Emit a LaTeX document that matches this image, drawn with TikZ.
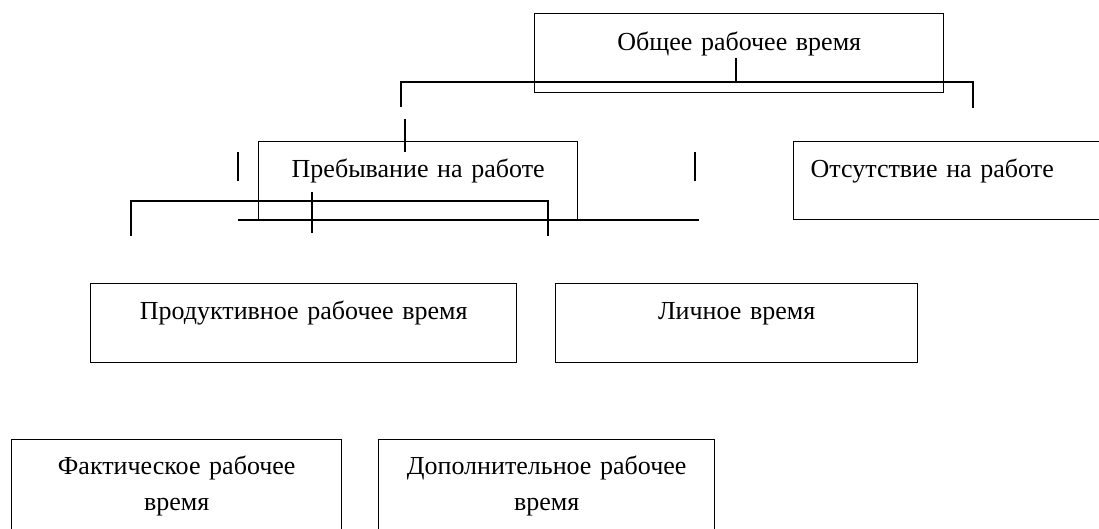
\documentclass[tikz,border=0pt]{standalone}
\usepackage{fontspec}
\setmainfont{Liberation Serif}
\usetikzlibrary{positioning}
\tikzset{box/.style={rectangle,draw,line width=1.4pt,inner sep=0pt,align=center,anchor=north west,font=\fontsize{26}{36}\selectfont},line/.style={line width=1.4pt}}

\begin{document}
\begin{tikzpicture}[x=1pt,y=-1pt]
\useasboundingbox (0,0) rectangle (1099,529);
\clip (0,0) rectangle (1099,529);
% boxes
\node[box,text width=409pt,text height=37pt,text depth=42pt] (total) at (534,13) {Общее рабочее время};
\node[box,text width=319pt,text height=36pt,text depth=43pt] (present) at (258,141) {Пребывание на работе};
\node[box,text width=305pt,text height=36pt,text depth=42pt,align=left,inner xsep=17pt] (absent) at (793,141) {Отсутствие на работе};
\node[box,text width=426pt,text height=36pt,text depth=43pt] (prod) at (90,283) {Продуктивное рабочее время};
\node[box,text width=362pt,text height=36pt,text depth=43pt] (personal) at (555,283) {Личное время};
\node[box,text width=330pt,text height=35pt,text depth=80pt] (actual) at (11,439) {Фактическое рабочее\\время};
\node[box,text width=336pt,text height=35pt,text depth=80pt] (extra) at (378,439) {Дополнительное рабочее\\время};
% loose line ends
\coordinate (t1) at (736,58);  \coordinate (t2) at (736,82);
\coordinate (a1) at (401,107); \coordinate (a2) at (401,82);
\coordinate (a3) at (973,82);  \coordinate (a4) at (973,108);
\coordinate (p1) at (405,119); \coordinate (p2) at (405,152);
\coordinate (s1) at (238,152); \coordinate (s2) at (238,181);
\coordinate (s3) at (695,152); \coordinate (s4) at (695,181);
\coordinate (b1) at (131,236); \coordinate (b2) at (131,201);
\coordinate (b3) at (548,201); \coordinate (b4) at (548,236);
\coordinate (m1) at (312,192); \coordinate (m2) at (312,233);
\coordinate (u1) at (238,220); \coordinate (u2) at (699,220);
% lines
\draw[line] (t1) -- (t2);
\draw[line] (a1) -- (a2) -- (a3) -- (a4);
\draw[line] (p1) -- (p2);
\draw[line] (s1) -- (s2);
\draw[line] (s3) -- (s4);
\draw[line] (b1) -- (b2) -- (b3) -- (b4);
\draw[line] (m1) -- (m2);
\draw[line] (u1) -- (u2);
\end{tikzpicture}
\end{document}
